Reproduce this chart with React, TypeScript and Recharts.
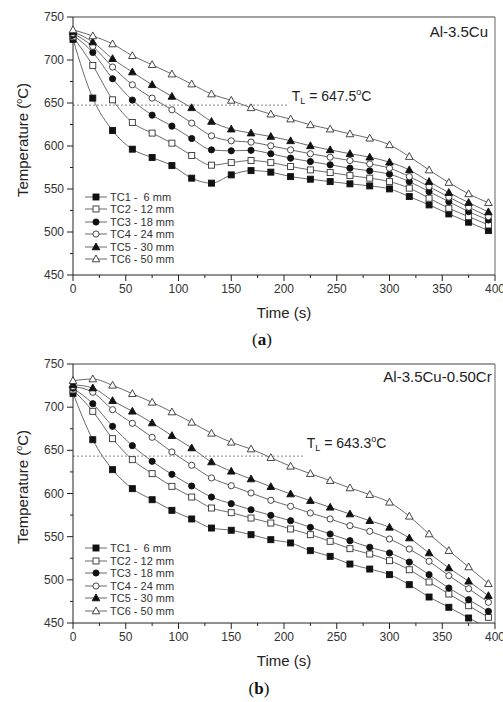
import React from 'react';
import { LineChart, Line, XAxis, YAxis, ReferenceLine, Legend } from 'recharts';

// sampling times (s)
const TIME = [0, 18.75, 37.5, 56.25, 75, 93.75, 112.5, 131.25, 150, 168.75, 187.5, 206.25, 225, 243.75, 262.5, 281.25, 300, 318.75, 337.5, 356.25, 375, 393.75];

// (a) Al-3.5Cu
const TC1_A = [724, 655.7, 618, 596.3, 586.6, 577.2, 562.6, 556.8, 566.4, 571.4, 569.6, 564.4, 561.4, 558.6, 556, 553.6, 550.1, 541.2, 531.5, 521, 511.4, 501.6];
const TC2_A = [727, 693.7, 653.7, 627.3, 615, 603.3, 588.9, 577.7, 580.7, 583.1, 580.7, 576.1, 572.2, 569.1, 565.6, 562.6, 558.6, 551, 539.3, 527.6, 517.9, 508.2];
const TC3_A = [729, 708.8, 678.2, 653.4, 635.9, 623.1, 608.7, 595.5, 594.4, 595, 591, 585.9, 581.9, 578.1, 574.2, 571.1, 567.2, 558.6, 547, 535.3, 523.7, 514];
const TC4_A = [731, 715.8, 691.8, 671.2, 655.7, 642.1, 626.6, 611.8, 606, 604.5, 600.2, 595.5, 591, 587, 583.1, 579.2, 574.2, 564.4, 552.8, 540.5, 528.8, 517.9];
const TC5_A = [733, 720.9, 701.5, 686, 671.2, 657.6, 644.4, 628.5, 619.6, 615, 611, 606, 600.2, 595.5, 591, 587, 581.2, 572.2, 558.6, 545.8, 534.2, 523.3];
const TC6_A = [735, 728, 718.6, 705, 694.5, 683.6, 672, 660.4, 653, 644.4, 637, 631.3, 624.6, 619.6, 614, 609, 601.3, 587.7, 572, 557.5, 544.3, 534];

// (b) Al-3.5Cu-0.50Cr
const TC1_B = [716, 662.3, 627.6, 605.6, 592.8, 580.5, 570.5, 560, 557.4, 552.3, 546.5, 542.7, 533.8, 527.2, 518.3, 512.5, 506, 494.4, 480.1, 468.2, 455.8, 444];
const TC2_B = [720, 695.2, 663.5, 639.2, 623, 608.3, 595.9, 583.2, 577.8, 571.6, 565.8, 558.9, 552.3, 544.6, 536.1, 529.9, 522.2, 511.7, 497.5, 483.6, 470, 456.6];
const TC3_B = [722, 704, 677.8, 655.4, 637.3, 622.2, 608.7, 595.9, 588.2, 581.2, 574.7, 568.5, 560.8, 553.1, 545.3, 537.7, 531.1, 520.6, 506, 490.5, 477, 463.5];
const TC4_B = [724, 717.2, 697.1, 681.3, 665.1, 648.1, 632.7, 618, 609, 600.6, 592.1, 585.1, 577.4, 570.5, 562.7, 556.2, 547.3, 535.7, 521.5, 504.8, 489.7, 474];
const TC5_B = [726, 722.2, 707.5, 695.2, 681.7, 667, 652.7, 636.5, 625.7, 616.8, 607.9, 599.4, 591.7, 584, 576.2, 568.5, 560.8, 548.4, 531.1, 513.7, 498.3, 481.6];
const TC6_B = [730.7, 732.6, 725.3, 715.6, 705.6, 694.4, 682.4, 669.7, 659.3, 651.5, 641.5, 631.5, 623, 614.9, 606.4, 598.7, 589.8, 573.6, 553.1, 533.8, 514.9, 495.5];

const SERIES = ['TC1 -  6 mm', 'TC2 - 12 mm', 'TC3 - 18 mm', 'TC4 - 24 mm', 'TC5 - 30 mm', 'TC6 - 50 mm'];
const X_TICKS = [0, 25, 50, 75, 100, 125, 150, 175, 200, 225, 250, 275, 300, 325, 350, 375, 400];
const Y_TICKS = [450, 475, 500, 525, 550, 575, 600, 625, 650, 675, 700, 725, 750];

const SHAPES: [string, boolean][] = [
  ['square', true], ['square', false], ['circle', true],
  ['circle', false], ['triangle', true], ['triangle', false]
];

const FONT = '"Liberation Sans", Arial, sans-serif';
const SERIF = '"Liberation Serif", "Times New Roman", serif';
const LINE_COLOR = '#6a6a6a';

function Marker({ cx, cy, shape, filled }: { cx: number; cy: number; shape: string; filled: boolean }) {
  const fill = filled ? '#111' : '#fff';
  const stroke = filled ? '#111' : '#333';
  if (shape === 'square') {
    return <rect x={cx - 3} y={cy - 3} width={6} height={6} fill={fill} stroke={stroke} strokeWidth={0.9} />;
  }
  if (shape === 'circle') {
    return <circle cx={cx} cy={cy} r={3.1} fill={fill} stroke={stroke} strokeWidth={0.9} />;
  }
  return (
    <polygon
      points={`${cx},${cy - 4} ${cx - 3.8},${cy + 2.8} ${cx + 3.8},${cy + 2.8}`}
      fill={fill}
      stroke={stroke}
      strokeWidth={0.9}
    />
  );
}

const makeDot = (shape: string, filled: boolean) => (props: any) => {
  const { cx, cy, index } = props;
  if (cx == null || cy == null) return <g key={`d-${index}`} />;
  return <Marker key={`d-${index}`} cx={cx} cy={cy} shape={shape} filled={filled} />;
};

const XTick = (props: any) => {
  const { x, y, payload } = props;
  const major = payload.value % 50 === 0;
  return (
    <g>
      <line x1={x} x2={x} y1={y} y2={y + (major ? 6 : 3)} stroke="#222" />
      {major && (
        <text x={x} y={y + 18} textAnchor="middle" fontSize={12} fill="#333" fontFamily={FONT}>
          {payload.value}
        </text>
      )}
    </g>
  );
};

const YTick = (props: any) => {
  const { x, y, payload } = props;
  const major = payload.value % 50 === 0;
  return (
    <g>
      <line x1={x} x2={x - (major ? 6 : 3)} y1={y} y2={y} stroke="#222" />
      {major && (
        <text x={x - 9} y={y + 4} textAnchor="end" fontSize={12} fill="#333" fontFamily={FONT}>
          {payload.value}
        </text>
      )}
    </g>
  );
};

const renderLegend = () => (
  <div style={{ fontFamily: FONT, fontSize: 11, color: '#333' }}>
    {SERIES.map((name, i) => (
      <div key={name} style={{ display: 'flex', alignItems: 'center', height: 12.5 }}>
        <svg width={26} height={12}>
          <line x1={2} x2={24} y1={6} y2={6} stroke={LINE_COLOR} />
          <Marker cx={13} cy={6} shape={SHAPES[i][0]} filled={SHAPES[i][1]} />
        </svg>
        <span style={{ marginLeft: 1, whiteSpace: 'pre' }}>{name}</span>
      </div>
    ))}
  </div>
);

interface PanelProps {
  series: number[][];
  top: number;
  tl: number;
  tlEnd: number;
  legendTop: number;
  bottomMargin: number;
}

function Panel({ series, top, tl, tlEnd, legendTop, bottomMargin }: PanelProps) {
  const data = TIME.map((t, i) => {
    const row: any = { t };
    series.forEach((s, j) => { row[`tc${j + 1}`] = s[i]; });
    return row;
  });

  return (
    <div style={{ position: 'absolute', left: 0, top }}>
      <LineChart width={503} height={330} data={data} margin={{ top: 17, right: 8, left: 0, bottom: bottomMargin }}>
        <XAxis
          dataKey="t"
          type="number"
          domain={[0, 400]}
          ticks={X_TICKS}
          interval={0}
          tickSize={0}
          tickMargin={0}
          tickLine={false}
          tick={<XTick />}
          height={43}
          stroke="#222"
          label={{ value: 'Time (s)', position: 'insideBottom', offset: 0, fontSize: 15, fill: '#222', fontFamily: FONT }}
        />
        <YAxis
          type="number"
          domain={[450, 750]}
          ticks={Y_TICKS}
          interval={0}
          allowDataOverflow
          tickSize={0}
          tickMargin={0}
          tickLine={false}
          tick={<YTick />}
          width={73}
          stroke="#222"
        />
        <ReferenceLine y={750} stroke="#444" />
        <ReferenceLine x={400} stroke="#666" />
        <ReferenceLine
          segment={[{ x: 0, y: tl }, { x: tlEnd, y: tl }]}
          stroke="#888"
          strokeDasharray="2 2"
        />
        {SHAPES.map(([shape, filled], j) => (
          <Line
            key={j}
            type="monotone"
            dataKey={`tc${j + 1}`}
            stroke={LINE_COLOR}
            strokeWidth={1}
            dot={makeDot(shape, filled)}
            activeDot={false}
            isAnimationActive={false}
          />
        ))}
        <Legend
          layout="vertical"
          align="center"
          verticalAlign="middle"
          wrapperStyle={{ left: 83, top: legendTop, width: 'auto' }}
          content={renderLegend}
        />
      </LineChart>
    </div>
  );
}

const YLabel = ({ cy }: { cy: number }) => (
  <text
    x={28}
    y={cy}
    transform={`rotate(-90, 28, ${cy})`}
    textAnchor="middle"
    fontSize={15}
    fill="#222"
  >
    Temperature (<tspan fontSize={9} dy={-6}>o</tspan><tspan dy={6}>C)</tspan>
  </text>
);

export default function App() {
  return (
    <div style={{ position: 'absolute', left: 0, top: 0, width: 503, height: 702, background: '#fff' }}>
      <Panel
        series={[TC1_A, TC2_A, TC3_A, TC4_A, TC5_A, TC6_A]}
        top={0}
        tl={647.5}
        tlEnd={204}
        legendTop={190.5}
        bottomMargin={12}
      />
      <Panel
        series={[TC1_B, TC2_B, TC3_B, TC4_B, TC5_B, TC6_B]}
        top={347}
        tl={643.3}
        tlEnd={220}
        legendTop={194.8}
        bottomMargin={11}
      />
      <svg
        width={503}
        height={702}
        style={{ position: 'absolute', left: 0, top: 0, pointerEvents: 'none' }}
        fontFamily={FONT}
      >
        <YLabel cy={140} />
        <YLabel cy={487} />
        <text x={488} y={36.7} textAnchor="end" fontSize={15} fill="#222">Al-3.5Cu</text>
        <text x={291.7} y={100.7} fontSize={14} fill="#222">
          T<tspan fontSize={9} dy={3}>L</tspan><tspan dy={-3}> = 647.5</tspan><tspan fontSize={9} dy={-6}>o</tspan><tspan dy={6}>C</tspan>
        </text>
        <text x={491.7} y={382} textAnchor="end" fontSize={15} fill="#222">Al-3.5Cu-0.50Cr</text>
        <text x={306.7} y={448} fontSize={14} fill="#222">
          T<tspan fontSize={9} dy={3}>L</tspan><tspan dy={-3}> = 643.3</tspan><tspan fontSize={9} dy={-6}>o</tspan><tspan dy={6}>C</tspan>
        </text>
        <text x={262} y={345} textAnchor="middle" fontSize={17} fontFamily={SERIF} fill="#111">
          (<tspan fontWeight="bold">a</tspan>)
        </text>
        <text x={259} y={694} textAnchor="middle" fontSize={17} fontFamily={SERIF} fill="#111">
          (<tspan fontWeight="bold">b</tspan>)
        </text>
      </svg>
    </div>
  );
}
